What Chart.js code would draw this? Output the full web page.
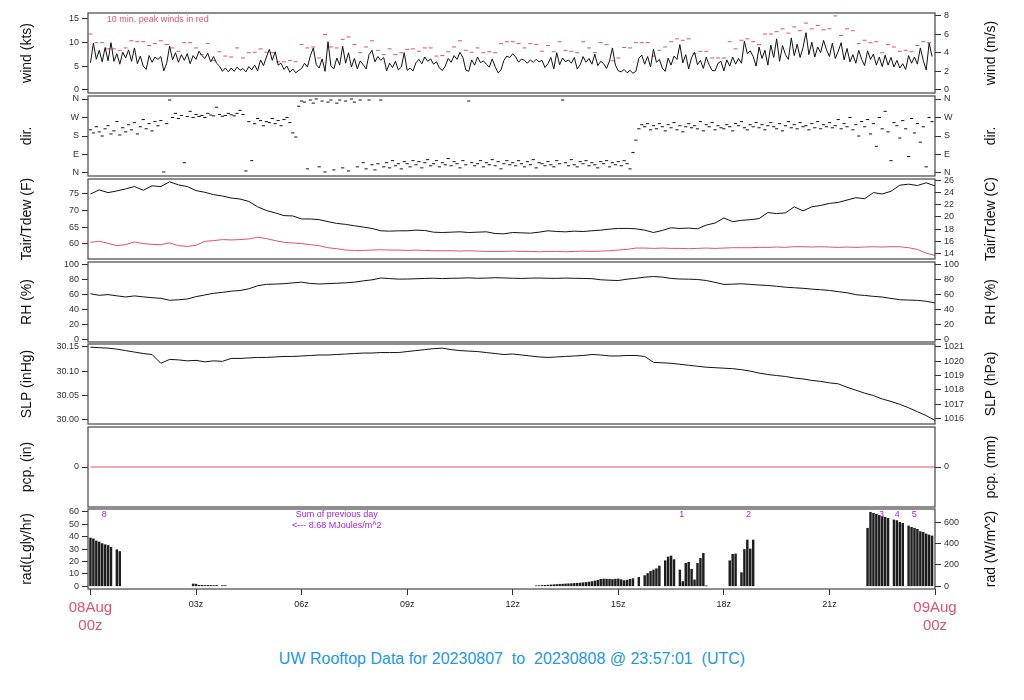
<!DOCTYPE html>
<html>
<head>
<meta charset="utf-8">
<script src="https://cdn.jsdelivr.net/npm/chart.js@4.4.1/dist/chart.umd.min.js"></script>
<style>
  body { margin: 0; background: #fff; width: 1024px; height: 700px; position: relative; overflow: hidden; }
  canvas { position: absolute; left: 0; }
  #title { position: absolute; top: 650px; left: 0; width: 1024px; text-align: center; color: #2297E6;
           font: 16px "Liberation Sans", Arial, sans-serif; white-space: pre; }
</style>
</head>
<body>
<div id="title">UW Rooftop Data for 20230807  to  20230808 @ 23:57:01  (UTC)</div>
<script>
// ----------- Data (hours since 08Aug 00z) -----------
// wind speed, kts, every 5 min
const windKts = [
  5.7, 9.8, 6.4, 8.3, 5.9, 8.9, 6.1, 9.9, 6.0, 7.6, 5.4, 7.9,
  6.7, 8.4, 6.0, 8.8, 5.5, 7.1, 5.0, 4.3, 7.2, 5.8, 6.9, 6.4,
  7.0, 4.0, 5.6, 9.2, 6.3, 7.8, 5.8, 7.4, 6.2, 7.6, 5.5, 7.2,
  6.4, 8.1, 7.2, 6.6, 7.7, 5.9, 7.0, 5.6, 5.0, 3.9, 4.6, 3.8,
  4.6, 3.9, 4.8, 4.1, 4.5, 3.8, 4.9, 4.2, 5.2, 4.0, 6.3, 5.1,
  6.9, 8.5, 6.2, 8.0, 5.2, 5.6, 4.3, 5.0, 3.7, 4.4, 3.6, 4.1,
  4.5, 5.6, 4.8, 7.2, 8.8, 5.3, 4.6, 6.5, 3.9, 10.1, 5.0, 4.4,
  6.7, 5.2, 9.2, 5.6, 7.8, 4.8, 6.6, 4.4, 6.1, 5.3, 4.4, 7.4,
  8.3, 5.9, 7.0, 6.2, 6.8, 4.0, 5.6, 4.7, 6.0, 4.2, 4.8, 7.8,
  4.1, 4.6, 4.0, 5.7, 6.4, 5.5, 6.9, 6.0, 6.5, 5.4, 5.9, 4.6,
  4.1, 5.0, 6.6, 5.8, 7.2, 6.4, 7.9, 6.8, 4.2, 3.9, 6.3, 5.2,
  6.9, 5.7, 6.1, 5.4, 4.8, 6.5, 4.9, 3.6, 4.2, 6.2, 7.1, 6.8,
  7.6, 6.9, 5.8, 6.5, 6.2, 5.6, 6.3, 5.8, 6.4, 5.9, 6.2, 4.7,
  5.5, 6.8, 4.4, 7.8, 5.3, 6.7, 5.9, 6.3, 5.6, 6.8, 4.4, 5.3,
  7.0, 5.8, 6.6, 5.4, 7.5, 5.1, 6.0, 5.5, 4.5, 6.1, 8.8, 5.2,
  4.0, 3.8, 4.3, 3.6, 4.1, 3.5, 3.9, 6.6, 7.3, 5.4, 7.0, 4.8,
  8.5, 5.8, 6.4, 4.6, 3.9, 6.7, 5.2, 7.1, 6.4, 9.5, 5.7, 7.4,
  4.4, 6.8, 7.9, 5.3, 6.2, 4.5, 6.9, 5.2, 4.1, 4.0, 5.6, 6.0,
  4.0, 6.3, 5.0, 6.9, 5.4, 6.6, 5.6, 10.2, 7.6, 8.2, 7.0, 5.0,
  9.0, 6.6, 8.3, 5.2, 9.4, 6.8, 10.7, 6.0, 9.3, 7.4, 6.4, 10.9,
  7.2, 9.6, 6.8, 8.9, 12.0, 7.4, 10.0, 6.9, 9.0, 7.8, 10.4, 8.4,
  7.0, 9.8, 6.6, 8.1, 9.9, 6.3, 8.7, 5.9, 7.4, 5.6, 8.3, 6.4,
  5.1, 8.2, 6.4, 7.5, 5.2, 6.9, 4.9, 7.3, 5.2, 6.8, 4.8, 6.2,
  4.6, 5.5, 4.3, 7.2, 5.6, 6.9, 5.4, 8.8, 6.2, 4.2, 9.8, 7.0
];
// 10 min peak wind, kts
const windPeakKts = [
  11.7, 9.9, 9.9, 8.6, 8.6, 8.3,
  8.8, 10.3, 10.1, 10.1, 9.3, 9.7,
  10.3, 9.5, 8.8, 8.1, 9.9, 9.9,
  8.8, 7.4, 9.7, 6.2, 8.0, 7.1,
  6.9, 8.8, 6.7, 7.8, 7.9, 8.6,
  7.9, 7.8, 5.9, 5.9, 6.2, 5.9,
  9.5, 8.8, 9.0, 6.7, 11.6, 9.0,
  8.8, 10.6, 11.1, 9.5, 7.8, 9.0,
  10.3, 8.3, 7.4, 8.6, 7.4, 7.8,
  8.5, 8.6, 8.1, 8.8, 8.8, 7.1,
  7.2, 8.0, 9.0, 10.3, 8.3, 7.9,
  8.8, 7.8, 8.0, 7.8, 9.7, 10.1,
  10.1, 9.7, 8.8, 9.7, 9.5, 8.1,
  9.3, 8.0, 10.1, 8.3, 8.1, 7.8,
  10.1, 8.8, 7.8, 9.9, 9.5, 6.1,
  6.7, 8.9, 8.8, 9.9, 9.9, 9.9,
  7.1, 8.3, 9.0, 10.1, 10.7, 10.4,
  10.7, 7.6, 8.1, 8.1, 6.7, 6.7,
  6.7, 10.1, 8.6, 10.4, 10.7, 10.1,
  9.5, 11.7, 11.7, 12.2, 12.8, 11.9,
  13.2, 12.4, 14.0, 12.8, 13.5, 12.6,
  12.8, 15.5, 11.4, 12.8, 12.4, 9.7,
  10.4, 9.9, 10.1, 7.8, 9.5, 9.0,
  8.1, 8.3, 8.0, 9.3, 10.1, 9.9
];
// wind direction, degrees, every 5 min
const windDirDeg = [
  210, 195, 225, 200, 180, 215, 230, 190, 205, 250, 185, 220,
  200, 235, 210, 245, 190, 225, 260, 215, 240, 205, 250, 230,
  255, 5, 240, 355, 270, 290, 265, 280, 50, 275, 300, 270,
  285, 275, 280, 270, 290, 282, 278, 320, 285, 276, 280, 290,
  283, 278, 290, 305, 285, 10, 250, 60, 240, 265, 255, 230,
  250, 245, 265, 240, 255, 230, 260, 270, 245, 195, 175, 325,
  350, 345, 20, 355, 340, 360, 30, 350, 5, 345, 355, 15,
  340, 355, 25, 350, 10, 360, 345, 30, 355, 50, 20, 355,
  40, 15, 45, 355, 30, 50, 25, 60, 35, 45, 20, 55,
  45, 30, 60, 40, 55, 25, 50, 65, 35, 45, 60, 30,
  50, 40, 70, 35, 55, 45, 25, 60, 40, 350, 50, 35,
  45, 60, 30, 50, 40, 65, 35, 55, 20, 45, 60, 40,
  50, 35, 60, 45, 30, 55, 40, 65, 25, 50, 45, 35,
  55, 40, 30, 60, 45, 355, 50, 35, 65, 40, 30, 55,
  45, 60, 35, 50, 40, 25, 55, 45, 60, 30, 50, 40,
  55, 35, 60, 45, 20, 100, 160, 215, 235, 225, 240, 210,
  230, 215, 240, 225, 205, 235, 220, 245, 210, 230, 200, 225,
  240, 220, 230, 215, 250, 205, 235, 225, 245, 210, 230, 220,
  215, 235, 225, 205, 240, 230, 250, 220, 210, 235, 225, 245,
  220, 235, 210, 230, 245, 225, 215, 240, 205, 230, 250, 220,
  235, 215, 245, 225, 230, 210, 240, 220, 250, 215, 235, 225,
  245, 220, 230, 260, 215, 240, 225, 270, 210, 235, 180, 250,
  225, 260, 190, 240, 130, 270, 215, 300, 200, 60, 245, 230,
  170, 255, 215, 80, 265, 195, 240, 150, 225, 30, 270, 250
];
// every 15 min
const tairF = [
  74.8, 76.0, 75.2, 75.7,  76.3, 77.0, 75.9, 77.2,  77.0, 78.4, 77.5, 77.0,
  75.8, 75.3, 74.6, 74.2,  73.6, 73.3, 72.6, 71.0,  69.9, 69.2, 68.4, 68.3,
  67.4, 67.4, 67.2, 66.6,  66.1, 65.8, 65.4, 65.0,  64.6, 63.9, 63.8, 63.9,
  63.9, 64.1, 64.0, 63.5,  63.4, 63.5, 63.6, 63.4,  63.5, 63.6, 63.1, 63.0,
  63.4, 63.3, 63.2, 63.5,  63.9, 63.7, 63.6, 63.8,  63.7, 63.9, 64.1, 64.4,
  64.6, 64.6, 64.5, 64.1,  63.4, 64.0, 64.8, 64.6,  64.7, 64.5, 65.6, 66.2,
  67.7, 66.6, 67.0, 67.2,  67.5, 69.3, 69.0, 69.2,  71.0, 69.8, 71.0, 71.4,
  72.0, 72.3, 73.0, 73.7,  73.4, 75.2, 74.8, 75.6,  77.4, 77.7, 77.3, 78.1,
  77.2
];
const tdewF = [
  60.5, 60.8, 60.2, 59.5,  59.8, 60.6, 60.1, 59.9,  59.8, 60.3, 59.5, 59.3,
  59.6, 60.8, 61.0, 61.3,  61.2, 61.3, 61.5, 62.0,  61.6, 61.0, 60.5, 60.3,
  60.1, 59.8, 59.5, 58.9,  58.6, 58.2, 58.1, 58.1,  58.2, 58.3, 58.2, 58.2,
  58.1, 58.2, 58.1, 58.0,  58.0, 58.0, 57.9, 58.0,  57.9, 57.8, 57.8, 57.8,
  57.9, 57.8, 57.8, 57.7,  57.8, 57.8, 57.7, 57.8,  57.9, 57.8, 57.9, 58.0,
  58.2, 58.4, 58.8, 58.8,  58.7, 58.8, 58.7, 58.7,  58.6, 58.7, 58.8, 58.7,
  58.8, 58.9, 58.9, 58.9,  59.0, 59.0, 59.1, 59.0,  59.2, 59.2, 59.1, 59.2,
  59.1, 59.0, 59.1, 59.0,  59.1, 59.2, 59.1, 59.2,  59.2, 58.9, 58.4, 57.3,
  56.6
];
const rhPct = [
  61.2, 59.0, 60.0, 58.3,  56.8, 58.2, 57.0, 55.8,  55.0, 52.3, 53.0, 54.0,
  57.2, 59.5, 61.8, 63.0,  64.6, 65.5, 67.8, 72.0,  73.8, 74.2, 74.7, 75.8,
  76.8, 75.0, 74.3, 74.8,  75.3, 75.9, 76.8, 78.5,  79.9, 82.4, 81.6, 80.9,
  81.0, 81.4, 81.8, 82.1,  81.6, 82.0, 82.2, 82.6,  82.0, 82.3, 82.8, 82.5,
  82.1, 81.8, 82.2, 82.4,  82.0, 81.9, 82.3, 82.0,  81.8, 81.5, 80.0, 79.4,
  79.0, 80.8, 82.0, 83.5,  84.4, 83.6, 81.8, 81.0,  80.8, 80.4, 79.0, 76.5,
  73.7, 74.1, 74.6, 73.8,  72.9, 72.3, 71.2, 70.0,  69.2, 68.5, 67.4, 66.6,
  65.6, 64.0, 62.5, 59.8,  58.9, 57.6, 56.7, 54.8,  53.1, 52.6, 52.2, 51.0,
  48.7
];
const slpInHg = [
  30.149, 30.148, 30.147, 30.145,  30.142, 30.139, 30.136, 30.134,  30.116, 30.124, 30.123, 30.121,
  30.122, 30.119, 30.121, 30.120,  30.126, 30.126, 30.127, 30.128,  30.128, 30.129, 30.130, 30.130,
  30.131, 30.132, 30.133, 30.133,  30.134, 30.135, 30.136, 30.137,  30.137, 30.138, 30.138, 30.138,
  30.140, 30.142, 30.144, 30.146,  30.147, 30.144, 30.142, 30.141,  30.140, 30.138, 30.136, 30.134,
  30.135, 30.133, 30.131, 30.129,  30.128, 30.129, 30.130, 30.131,  30.132, 30.134, 30.133, 30.131,
  30.131, 30.132, 30.132, 30.130,  30.118, 30.117, 30.116, 30.114,  30.112, 30.110, 30.108, 30.107,
  30.106, 30.105, 30.103, 30.100,  30.096, 30.093, 30.091, 30.089,  30.086, 30.084, 30.081, 30.079,
  30.076, 30.074, 30.067, 30.061,  30.055, 30.050, 30.043, 30.038,  30.032, 30.025, 30.017, 30.009,
  29.999
];
// hourly precipitation, in
const pcpIn = [0, 0, 0, 0, 0, 0, 0, 0, 0, 0, 0, 0, 0, 0, 0, 0, 0, 0, 0, 0, 0, 0, 0, 0, 0];
// solar radiation, W/m^2, every 5 min (0 = no reading)
const radWm2 = [
  453, 445, 425, 415, 400, 390, 383, 365, 0, 343, 326, 0,
  0, 0, 0, 0, 0, 0, 0, 0, 0, 0, 0, 0,
  0, 0, 0, 0, 0, 0, 0, 0, 0, 0, 0, 22,
  20, 10, 9, 8, 9, 8, 7, 8, 0, 7, 6, 0,
  0, 0, 0, 0, 0, 0, 0, 0, 0, 0, 0, 0,
  0, 0, 0, 0, 0, 0, 0, 0, 0, 0, 0, 0,
  0, 0, 0, 0, 0, 0, 0, 0, 0, 0, 0, 0,
  0, 0, 0, 0, 0, 0, 0, 0, 0, 0, 0, 0,
  0, 0, 0, 0, 0, 0, 0, 0, 0, 0, 0, 0,
  0, 0, 0, 0, 0, 0, 0, 0, 0, 0, 0, 0,
  0, 0, 0, 0, 0, 0, 0, 0, 0, 0, 0, 0,
  0, 0, 0, 0, 0, 0, 0, 0, 0, 0, 0, 0,
  0, 0, 0, 0, 0, 0, 0, 0, 5, 6, 7, 9,
  11, 13, 15, 17, 19, 20, 22, 24, 25, 27, 29, 30,
  33, 36, 40, 44, 50, 57, 66, 68, 67, 66, 64, 67,
  69, 62, 53, 58, 66, 72, 0, 84, 0, 100, 120, 140,
  153, 165, 190, 0, 240, 275, 284, 250, 0, 153, 44, 215,
  225, 160, 60, 215, 262, 309, 4, 0, 0, 0, 0, 0,
  0, 0, 240, 300, 303, 0, 128, 345, 434, 350, 434, 0,
  0, 0, 0, 0, 0, 0, 0, 0, 0, 0, 0, 0,
  0, 0, 0, 0, 0, 0, 0, 0, 0, 0, 0, 0,
  0, 0, 0, 0, 0, 0, 0, 0, 0, 0, 0, 0,
  0, 544, 694, 684, 676, 666, 657, 647, 637, 0, 622, 616,
  600, 590, 0, 566, 553, 544, 534, 513, 506, 491, 481, 472
];
const radMarkHours = [0.39, 16.8, 18.7, 22.48, 22.93, 23.41];
const radMarkText = ['8', '1', '2', '3', '4', '5'];
const radSumText = ['Sum of previous day', '<--- 8.68 MJoules/m^2'];

const hourTicks = [0, 3, 6, 9, 12, 15, 18, 21, 24];
const hourLabels = [['08Aug', '00z'], '03z', '06z', '09z', '12z', '15z', '18z', '21z', ['09Aug', '00z']];
const dirTicks = [0, 90, 180, 270, 360];
const dirLabels = ['N', 'E', 'S', 'W', 'N'];

const leftTitles = ['wind (kts)', 'dir.', 'Tair/Tdew (F)', 'RH (%)', 'SLP (inHg)', 'pcp. (in)', 'rad(Lgly/hr)'];
const rightTitles = ['wind (m/s)', 'dir.', 'Tair/Tdew (C)', 'RH (%)', 'SLP (hPa)', 'pcp. (mm)', 'rad (W/m^2)'];

// ----------- Layout / styling -----------
const FONT = '"Liberation Sans", Arial, Helvetica, sans-serif';
const RED = '#DF536B';
const PURPLE = '#A020F0';
const X_MIN = -0.07, X_MAX = 24.0;
const PANEL_TOPS = [13, 96, 179, 262, 344, 427, 509];
const PANEL_H = 80;
const PAD = 12;
const KTS_PER_MS = 1.94384;
const HPA_PER_INHG = 33.8639;
const WM2_PER_LGLY = 11.63;

const series = (values, step) => values.map((v, i) => ({ x: i * step, y: v }));
const lineDs = (data, color, axis) => ({
  type: 'line', data, borderColor: color, borderWidth: 1, pointRadius: 0, tension: 0, yAxisID: axis || 'y'
});
const dashDs = (data, color, r) => ({
  type: 'line', data, showLine: false, pointStyle: 'line', pointRadius: r, pointHoverRadius: r,
  pointBorderColor: color, pointBorderWidth: 1, borderColor: color, yAxisID: 'y'
});

function yAxis(pos, min, max, values, fmt) {
  return {
    type: 'linear', position: pos, min, max,
    afterBuildTicks: s => { s.ticks = values.map(v => ({ value: v })); },
    afterFit: s => { s.width = pos === 'left' ? 88 : 89; },
    grid: { drawOnChartArea: false, drawTicks: true, tickLength: 6, color: '#333', offset: false },
    border: { display: false },
    ticks: { autoSkip: false, padding: 3, color: '#333', font: { family: FONT, size: 9 }, callback: fmt }
  };
}

function makePanel(i, datasets, left, right, extra) {
  const bottom = i === 6;
  const canvas = document.createElement('canvas');
  const h = bottom ? PAD + PANEL_H + 50 : PAD * 2 + PANEL_H;
  canvas.width = 1024; canvas.height = h;
  canvas.style.top = (PANEL_TOPS[i] - PAD) + 'px';
  document.body.appendChild(canvas);

  const frame = {
    id: 'frame' + i,
    afterDraw(chart) {
      const { ctx, chartArea: a } = chart;
      ctx.save();
      ctx.strokeStyle = '#444';
      ctx.lineWidth = 1.2;
      ctx.strokeRect(a.left, a.top, a.right - a.left, a.bottom - a.top);
      ctx.fillStyle = '#111';
      ctx.font = '14px ' + FONT;
      ctx.textAlign = 'center';
      ctx.textBaseline = 'middle';
      const cy = (a.top + a.bottom) / 2;
      [[27, leftTitles[i]], [991, rightTitles[i]]].forEach(([x, t]) => {
        ctx.save(); ctx.translate(x, cy); ctx.rotate(-Math.PI / 2); ctx.fillText(t, 0, 0); ctx.restore();
      });
      if (extra) extra(chart, ctx, a);
      ctx.restore();
    }
  };

  return new Chart(canvas, {
    type: 'line',
    data: { datasets },
    options: {
      responsive: false, animation: false, events: [],
      layout: { padding: { top: PAD, bottom: bottom ? 0 : PAD, left: 0, right: 0 } },
      plugins: { legend: { display: false }, tooltip: { enabled: false } },
      scales: {
        x: {
          type: 'linear', min: X_MIN, max: X_MAX, offset: false, display: bottom,
          afterBuildTicks: s => { s.ticks = hourTicks.map(v => ({ value: v })); },
          afterFit: s => { s.height = bottom ? 50 : 0; },
          grid: { drawOnChartArea: false, tickLength: 6, color: '#333', offset: false },
          border: { display: false },
          ticks: {
            autoSkip: false, maxRotation: 0, padding: 4,
            callback: (v, idx) => hourLabels[idx],
            color: c => (c.index === 0 || c.index === 8) ? RED : '#222',
            font: c => ({ family: FONT, size: (c.index === 0 || c.index === 8) ? 15 : 9 })
          }
        },
        y: left,
        yR: right
      }
    },
    plugins: [frame]
  });
}

// ----------- Panels -----------
// wind
makePanel(0,
  [lineDs(series(windKts, 5 / 60), '#111'), dashDs(series(windPeakKts, 10 / 60), RED, 2)],
  yAxis('left', -0.63, 16.11, [0, 5, 10, 15]),
  yAxis('right', -0.63 / KTS_PER_MS, 16.11 / KTS_PER_MS, [0, 2, 4, 6, 8]),
  (chart, ctx, a) => {
    ctx.fillStyle = RED; ctx.font = '9px ' + FONT; ctx.textAlign = 'left';
    ctx.fillText('10 min. peak winds in red', chart.scales.x.getPixelForValue(0.46), a.top + 7);
  });

// direction
const dirFmt = (v, idx) => dirLabels[idx];
makePanel(1,
  [dashDs(series(windDirDeg, 5 / 60), '#111', 1.6)],
  yAxis('left', -14.6, 374.6, dirTicks, dirFmt),
  yAxis('right', -14.6, 374.6, dirTicks, dirFmt));

// temperature / dewpoint
makePanel(2,
  [lineDs(series(tairF, 0.25), '#111'), lineDs(series(tdewF, 0.25), RED)],
  yAxis('left', 55.56, 79.23, [60, 65, 70, 75]),
  yAxis('right', (55.56 - 32) / 1.8, (79.23 - 32) / 1.8, [14, 16, 18, 20, 22, 24, 26]));

// RH
makePanel(3,
  [lineDs(series(rhPct, 0.25), '#111')],
  yAxis('left', -4, 104, [0, 20, 40, 60, 80, 100]),
  yAxis('right', -4, 104, [0, 20, 40, 60, 80, 100]));

// SLP
makePanel(4,
  [lineDs(series(slpInHg, 0.25), '#111')],
  yAxis('left', 29.9918, 30.1555, [30.00, 30.05, 30.10, 30.15], v => v.toFixed(2)),
  yAxis('right', 29.9918 * HPA_PER_INHG, 30.1555 * HPA_PER_INHG, [1016, 1017, 1018, 1019, 1020, 1021]));

// precipitation
makePanel(5,
  [lineDs(series(pcpIn, 1), RED)],
  yAxis('left', -1, 1, [0]),
  yAxis('right', -1, 1, [0]));

// radiation (skip missing readings)
makePanel(6,
  [{
    type: 'bar', data: series(radWm2, 5 / 60).filter(p => p.y > 0), yAxisID: 'yR',
    backgroundColor: '#1e1e1e', borderWidth: 0, barThickness: 1.8
  }],
  yAxis('left', -25.3 / WM2_PER_LGLY, 724.7 / WM2_PER_LGLY, [0, 10, 20, 30, 40, 50, 60]),
  yAxis('right', -25.3, 724.7, [0, 200, 400, 600]),
  (chart, ctx, a) => {
    const xs = chart.scales.x;
    ctx.fillStyle = PURPLE; ctx.font = '9px ' + FONT; ctx.textAlign = 'center';
    radMarkHours.forEach((h, k) => ctx.fillText(radMarkText[k], xs.getPixelForValue(h), a.top + 6));
    ctx.fillText(radSumText[0], xs.getPixelForValue(7.0), a.top + 6);
    ctx.fillText(radSumText[1], xs.getPixelForValue(7.0), a.top + 17);
  });
</script>
</body>
</html>
